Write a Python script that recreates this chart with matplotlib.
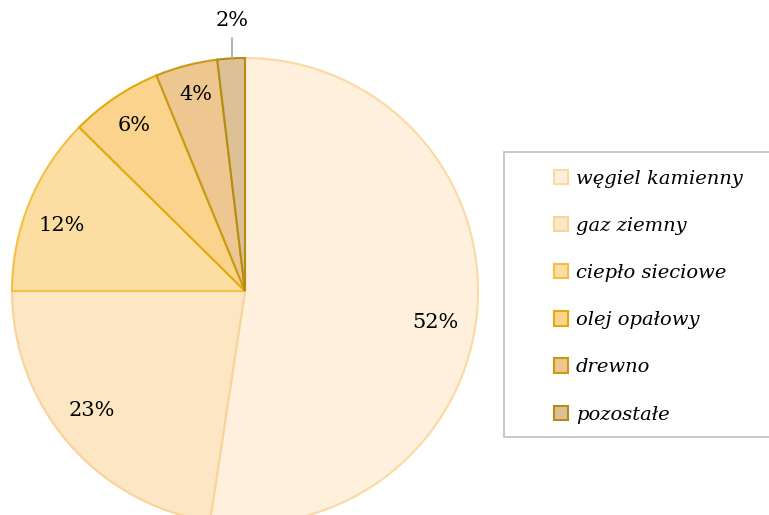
import matplotlib
matplotlib.use("Agg")
import matplotlib.pyplot as plt
from matplotlib.patches import Rectangle
import numpy as np

categories = ["węgiel kamienny", "gaz ziemny", "ciepło sieciowe", "olej opałowy", "drewno", "pozostałe"]
values = [52.4, 22.6, 12.4, 6.4, 4.3, 1.9]
labels = ["52%", "23%", "12%", "6%", "4%", "2%"]
fills = ["#FEF0DC", "#FDE6C3", "#FDDEA2", "#FCD38C", "#EEC68F", "#DEC096"]
edges = ["#FBD9A2", "#F8D39A", "#F4C043", "#E2AA0A", "#C99B14", "#B48E12"]

# label placement tweaks (layout only)
label_angle_shift = [-5.0, -2.8, 2.5, 0.0, -0.6, -0.7]
label_radius = [0.826, 0.832, 0.835, 0.854, 0.867, 1.164]

W, H = 769, 515
fig = plt.figure(figsize=(W / 100, H / 100), dpi=100)
cx, cy, R = 245, 291, 233
ax = fig.add_axes([(cx - R) / W, (H - cy - R) / H, 2 * R / W, 2 * R / H])

wedges, _ = ax.pie(values, startangle=90, counterclock=False, radius=1,
                   colors=fills, wedgeprops=dict(linewidth=1.5))
ax.set_xlim(-1, 1)
ax.set_ylim(-1, 1)
ax.set_aspect("equal")
ax.axis("off")
for w, ec in zip(wedges, edges):
    w.set_edgecolor(ec)
    w.set_clip_on(False)

total = sum(values)
cum = 0
for i, (v, lab) in enumerate(zip(values, labels)):
    mid = 90 - (cum + v / 2) / total * 360 + label_angle_shift[i]
    cum += v
    th = np.deg2rad(mid)
    d = label_radius[i]
    x, y = np.cos(th) * d, np.sin(th) * d
    if d > 1:
        ax.plot([x, x], [np.sqrt(1 - x * x), 1.085], color="#A6A6A6", lw=1.2,
                clip_on=False)
    ax.text(x, y, lab, ha="center", va="center",
            fontsize=15, family="DejaVu Serif", clip_on=False)

# legend frame
fig.patches.append(Rectangle((504 / W, 1 - 437 / H), 270 / W, 285 / H,
                             transform=fig.transFigure, facecolor="white",
                             edgecolor="#BFBFBF", linewidth=1.2, zorder=0))

leg = fig.legend(wedges, categories, loc="upper left",
                 bbox_to_anchor=(544 / W, 1 - 160 / H),
                 frameon=False,
                 prop=dict(family="DejaVu Serif", style="italic", size=14),
                 labelspacing=1.50, handlelength=0.75, handleheight=0.75,
                 handletextpad=0.4, borderpad=0.5, borderaxespad=0)

fig.savefig("out.png", dpi=100)
